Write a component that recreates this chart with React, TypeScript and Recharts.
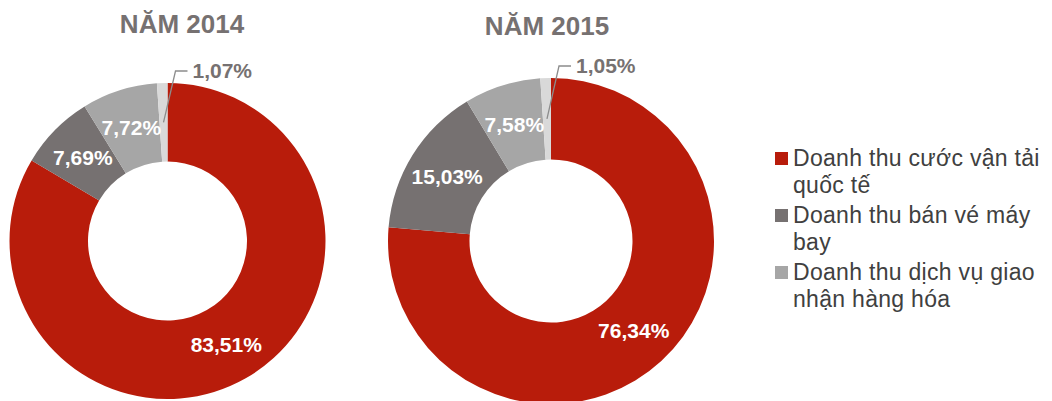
import { PieChart, Pie, Cell, Legend } from 'recharts'

const categories = [
  'Doanh thu cước vận tải quốc tế',
  'Doanh thu bán vé máy bay',
  'Doanh thu dịch vụ giao nhận hàng hóa',
  'Khác',
]
const years = ['NĂM 2014', 'NĂM 2015']
const values2014 = [83.51, 7.69, 7.72, 1.07]
const values2015 = [76.34, 15.03, 7.58, 1.05]
const colors = ['#B81C0B', '#767171', '#A6A6A6', '#D9D9D9']

const data2014 = categories.map((name, i) => ({ name, value: values2014[i] }))
const data2015 = categories.map((name, i) => ({ name, value: values2015[i] }))

const RADIAN = Math.PI / 180
const FONT = 'Arial, "Liberation Sans", Helvetica, sans-serif'

const fmt = (v: number) => v.toFixed(2).replace('.', ',') + '%'

function SliceLabel(props: any) {
  const { cx, cy, midAngle, innerRadius, outerRadius, percent, value } = props
  const r = (innerRadius + outerRadius) / 2
  const x = cx + r * Math.cos(-midAngle * RADIAN)
  const y = cy + r * Math.sin(-midAngle * RADIAN)

  // tiny slice: label outside with an elbow leader line
  if (percent < 0.03) {
    const ex = cx + 8
    const ey = cy - outerRadius - 12
    return (
      <g>
        <polyline points={`${x},${y} ${ex},${ey} ${ex + 12},${ey}`} fill="none" stroke="#8c8c8c" strokeWidth={1.3} />
        <text x={ex + 17} y={ey} dy="0.35em" fill="#767171" fontSize={21} fontWeight={700} fontFamily={FONT}>
          {fmt(value)}
        </text>
      </g>
    )
  }

  return (
    <text x={x} y={y} dy="0.35em" textAnchor="middle" fill="#fff" fontSize={21} fontWeight={700} fontFamily={FONT}>
      {fmt(value)}
    </text>
  )
}

function LegendContent() {
  return (
    <div style={{ fontFamily: FONT, fontSize: 23, letterSpacing: 0.3, lineHeight: '27px', color: '#404040', textAlign: 'left' }}>
      {categories.slice(0, 3).map((name, i) => (
        <div key={name} style={{ display: 'flex', alignItems: 'flex-start', marginBottom: 3 }}>
          <span style={{ width: 13, height: 13, background: colors[i], marginTop: 7, marginRight: 5, flexShrink: 0 }} />
          <span>{name}</span>
        </div>
      ))}
    </div>
  )
}

const titleStyle = {
  position: 'absolute' as const,
  fontFamily: FONT,
  fontSize: 26,
  fontWeight: 700,
  color: '#767171',
  width: 200,
  textAlign: 'center' as const,
}

export default function App() {
  return (
    <div style={{ position: 'absolute', left: 0, top: 0, width: 1052, height: 401, background: '#fff' }}>
      <div style={{ ...titleStyle, left: 82, top: 9 }}>{years[0]}</div>
      <div style={{ ...titleStyle, left: 447, top: 11 }}>{years[1]}</div>
      <PieChart width={1052} height={401} margin={{ top: 0, right: 0, bottom: 0, left: 0 }}>
        <Pie
          data={data2014}
          dataKey="value"
          cx={167.5}
          cy={241}
          innerRadius={79.5}
          outerRadius={158}
          startAngle={90}
          endAngle={-270}
          stroke="none"
          label={SliceLabel}
          labelLine={false}
          isAnimationActive={false}
        >
          {data2014.map((d, i) => (
            <Cell key={d.name} fill={colors[i]} />
          ))}
        </Pie>
        <Pie
          data={data2015}
          dataKey="value"
          cx={551}
          cy={241}
          innerRadius={81.5}
          outerRadius={163}
          startAngle={90}
          endAngle={-270}
          stroke="none"
          label={SliceLabel}
          labelLine={false}
          isAnimationActive={false}
        >
          {data2015.map((d, i) => (
            <Cell key={d.name} fill={colors[i]} />
          ))}
        </Pie>
        <Legend
          layout="vertical"
          verticalAlign="middle"
          align="right"
          content={<LegendContent />}
          wrapperStyle={{ left: 775, top: 145, width: 277 }}
        />
      </PieChart>
    </div>
  )
}
